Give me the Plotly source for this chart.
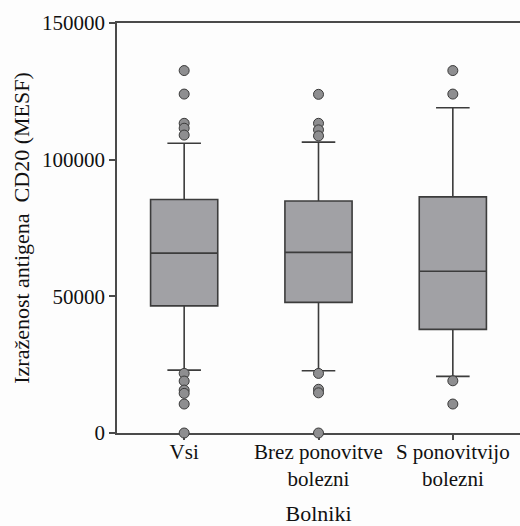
import plotly.graph_objects as go

categories = ["Vsi", "Brez ponovitve bolezni", "S ponovitvijo bolezni"]
tick_labels = ["Vsi", "Brez ponovitve<br>bolezni", "S ponovitvijo<br>bolezni"]

q1 = [46500, 47800, 37900]
median = [65800, 66100, 59200]
q3 = [85400, 84900, 86400]
lower_whisker = [23000, 22800, 20700]
upper_whisker = [106000, 106400, 119000]

outliers_vsi = [132600, 124000, 113300, 111500, 109000, 21800, 19000, 15700, 14500, 10600, 0]
outliers_brez = [123900, 113300, 110900, 108700, 21800, 16000, 14700, 0]
outliers_s = [132600, 124000, 19100, 10600]

y_ticks = [0, 50000, 100000, 150000]

FONT = "Liberation Serif, Times New Roman, serif"
LINE = "#4a4a4a"

fig = go.Figure()
fig.add_trace(go.Box(
    x=categories, q1=q1, median=median, q3=q3,
    lowerfence=lower_whisker, upperfence=upper_whisker,
    width=0.5, whiskerwidth=0.5, boxpoints=False,
    fillcolor="#a1a1a5", line=dict(color="#3c3c3c", width=1.6),
    showlegend=False,
))
for cat, vals in zip(categories, [outliers_vsi, outliers_brez, outliers_s]):
    fig.add_trace(go.Scatter(
        x=[cat] * len(vals), y=vals, mode="markers", cliponaxis=False,
        marker=dict(size=10, color="#8e8e90", line=dict(color="#3a3a3a", width=1)),
        showlegend=False,
    ))

fig.update_layout(
    width=520, height=526,
    margin=dict(l=117, r=0, t=23, b=93),
    paper_bgcolor="#fdfdfd", plot_bgcolor="#fdfdfd",
    font=dict(family=FONT, size=21, color="#111111"),
    xaxis=dict(
        type="category", categoryorder="array", categoryarray=categories,
        range=[-0.5, 2.5], tickvals=categories, ticktext=tick_labels,
        showline=True, linecolor=LINE, linewidth=1.5, mirror=True,
        ticks="outside", ticklen=5, tickcolor=LINE, tickwidth=1.5,
        ticklabelstandoff=-6,
        showgrid=False, zeroline=False, layer="below traces",
        tickfont=dict(size=21),
        title=dict(text="Bolniki", font=dict(size=22), standoff=17),
    ),
    yaxis=dict(
        range=[0, 150000], tickvals=y_ticks, ticktext=[str(v) for v in y_ticks],
        showline=True, linecolor=LINE, linewidth=1.5,
        ticks="outside", ticklen=6, tickcolor=LINE, tickwidth=1.5,
        showgrid=False, zeroline=False, layer="below traces",
        tickfont=dict(size=21),
        title=dict(text="Izraženost antigena  CD20 (MESF)", font=dict(size=22), standoff=6),
    ),
)

fig.write_html("out.html")
